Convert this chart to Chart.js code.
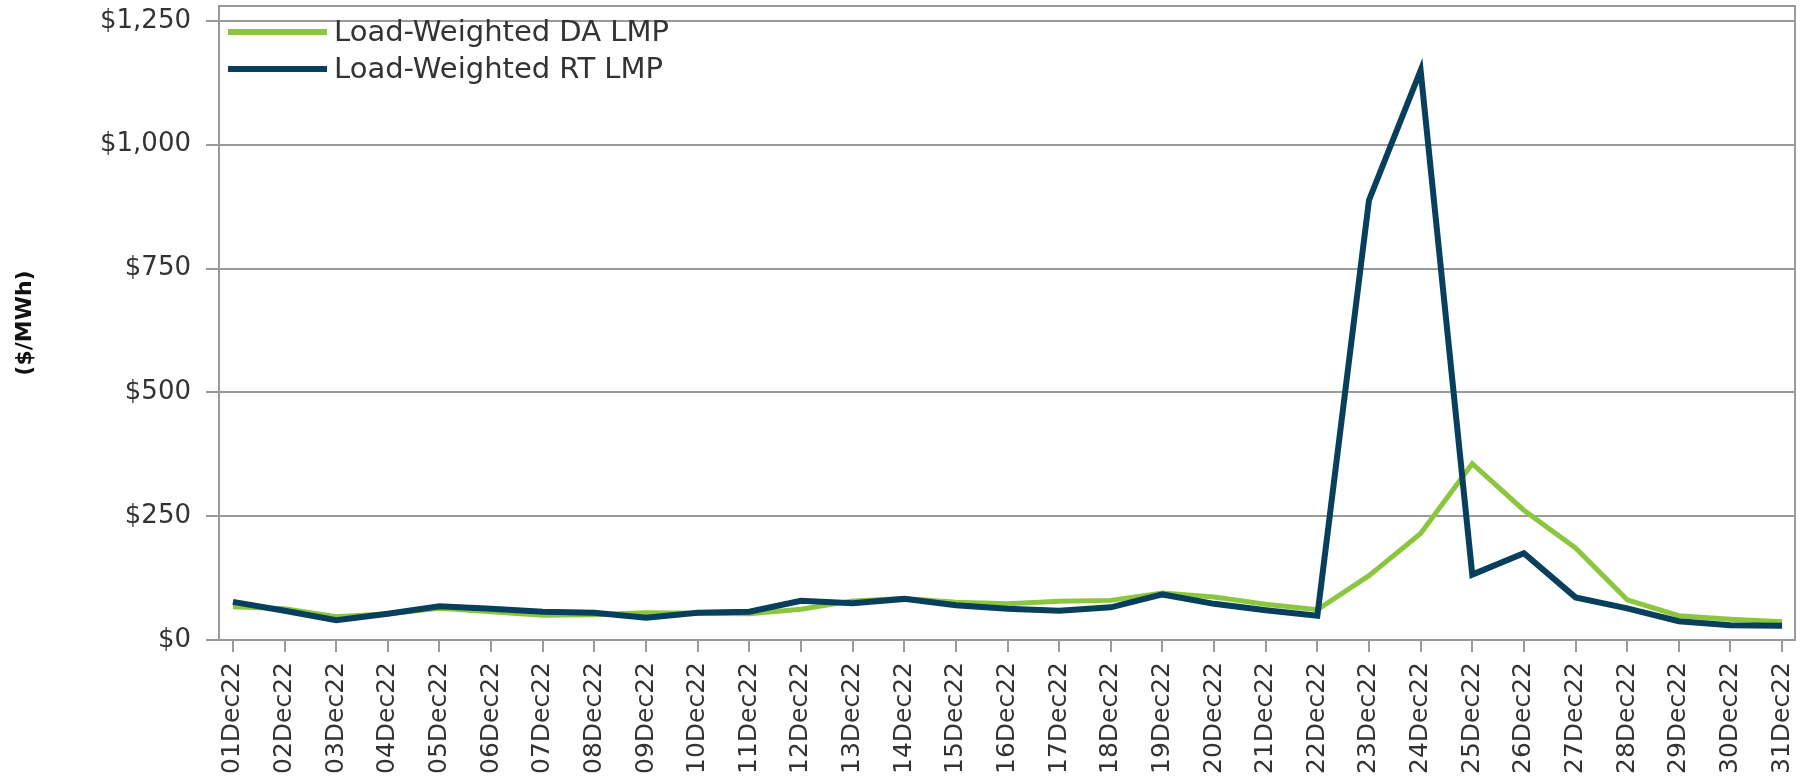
<!DOCTYPE html>
<html>
<head>
<meta charset="utf-8">
<script src="https://cdn.jsdelivr.net/npm/chart.js@4/dist/chart.umd.min.js"></script>
<style>
  html, body { margin: 0; padding: 0; background: #fff; }
  #wrap { width: 1807px; height: 782px; }
</style>
</head>
<body>
<div id="wrap"><canvas id="chart"></canvas></div>
<script>
const days = ['01Dec22', '02Dec22', '03Dec22', '04Dec22', '05Dec22', '06Dec22', '07Dec22', '08Dec22',
    '09Dec22', '10Dec22', '11Dec22', '12Dec22', '13Dec22', '14Dec22', '15Dec22', '16Dec22',
    '17Dec22', '18Dec22', '19Dec22', '20Dec22', '21Dec22', '22Dec22', '23Dec22', '24Dec22',
    '25Dec22', '26Dec22', '27Dec22', '28Dec22', '29Dec22', '30Dec22', '31Dec22'];

// $/MWh
const daLmp = [67, 63, 47, 53, 64, 57, 50, 51, 55, 54, 53, 62, 79, 84, 76, 73,
    78, 80, 95, 87, 72, 61, 130, 215, 356, 262, 186, 81, 49, 42, 37];
const rtLmp = [77, 59, 40, 53, 68, 63, 57, 55, 45, 55, 57, 79, 74, 83, 70, 63,
    59, 66, 92, 73, 60, 49, 888, 1150, 132, 175, 86, 64, 38, 30, 29];

const yTicks = [0, 250, 500, 750, 1000, 1250];

const gridGray = '#9a9a9a';
const textGray = '#333333';

// frame round the plot area
const framePlugin = {
    id: 'frame',
    afterDatasetsDraw(chart) {
        const a = chart.chartArea;
        const c = chart.ctx;
        c.save();
        c.strokeStyle = gridGray;
        c.lineWidth = 2;
        c.strokeRect(a.left, a.top, a.right - a.left, a.bottom - a.top);
        c.restore();
    }
};

// legend sits inside the plot, top left, one row per series
const innerLegend = {
    id: 'innerLegend',
    afterDraw(chart) {
        const a = chart.chartArea;
        const c = chart.ctx;
        c.save();
        c.font = '29px "DejaVu Sans"';
        c.textBaseline = 'middle';
        chart.data.datasets.forEach((ds, i) => {
            const y = a.top + 26 + i * 37;
            c.strokeStyle = ds.borderColor;
            c.lineWidth = 6;
            c.beginPath();
            c.moveTo(a.left + 9, y);
            c.lineTo(a.left + 108, y);
            c.stroke();
            c.fillStyle = textGray;
            c.fillText(ds.label, a.left + 115, y + 1);
        });
        c.restore();
    }
};

new Chart(document.getElementById('chart'), {
    type: 'line',
    data: {
        datasets: [{
            label: 'Load-Weighted DA LMP',
            data: daLmp.map((v, i) => ({ x: i, y: v })),
            borderColor: '#8cc63f',
            borderWidth: 5,
            order: 1
        }, {
            label: 'Load-Weighted RT LMP',
            data: rtLmp.map((v, i) => ({ x: i, y: v })),
            borderColor: '#073f5c',
            borderWidth: 6,
            order: 0
        }]
    },
    options: {
        responsive: true,
        maintainAspectRatio: false,
        animation: false,
        events: [],
        layout: { padding: { top: 6, right: 12, left: 0, bottom: 0 } },
        elements: {
            point: { radius: 0 },
            line: { tension: 0 }
        },
        plugins: {
            legend: { display: false },
            tooltip: { enabled: false }
        },
        scales: {
            x: {
                type: 'linear',
                min: -0.27,
                max: 30.25,
                afterBuildTicks: (axis) => {
                    axis.ticks = days.map((d, i) => ({ value: i }));
                },
                afterFit: (axis) => {
                    axis.height = 142;
                    axis.paddingLeft = 0;
                    axis.paddingRight = 0;
                },
                grid: {
                    drawOnChartArea: false,
                    color: gridGray,
                    lineWidth: 2,
                    tickLength: 12
                },
                border: { color: gridGray, width: 2 },
                ticks: {
                    autoSkip: false,
                    maxRotation: 90,
                    minRotation: 90,
                    padding: 10,
                    color: textGray,
                    font: { family: 'DejaVu Sans', size: 25 },
                    callback: (v) => days[v]
                }
            },
            y: {
                min: 0,
                max: 1280,
                afterBuildTicks: (axis) => {
                    axis.ticks = yTicks.map((v) => ({ value: v }));
                },
                afterFit: (axis) => {
                    axis.width = 219;
                    axis.paddingTop = 0;
                    axis.paddingBottom = 0;
                },
                grid: {
                    color: gridGray,
                    lineWidth: 2,
                    tickLength: 13
                },
                border: { color: gridGray, width: 2 },
                ticks: {
                    padding: 15,
                    color: textGray,
                    font: { family: 'DejaVu Sans', size: 26 },
                    callback: (v) => '$' + v.toLocaleString('en-US')
                },
                title: {
                    display: true,
                    text: '($/MWh)',
                    color: '#111',
                    padding: { top: 12, bottom: 0 },
                    font: { family: 'DejaVu Sans', size: 22, weight: 'bold' }
                }
            }
        }
    },
    plugins: [framePlugin, innerLegend]
});
</script>
</body>
</html>
